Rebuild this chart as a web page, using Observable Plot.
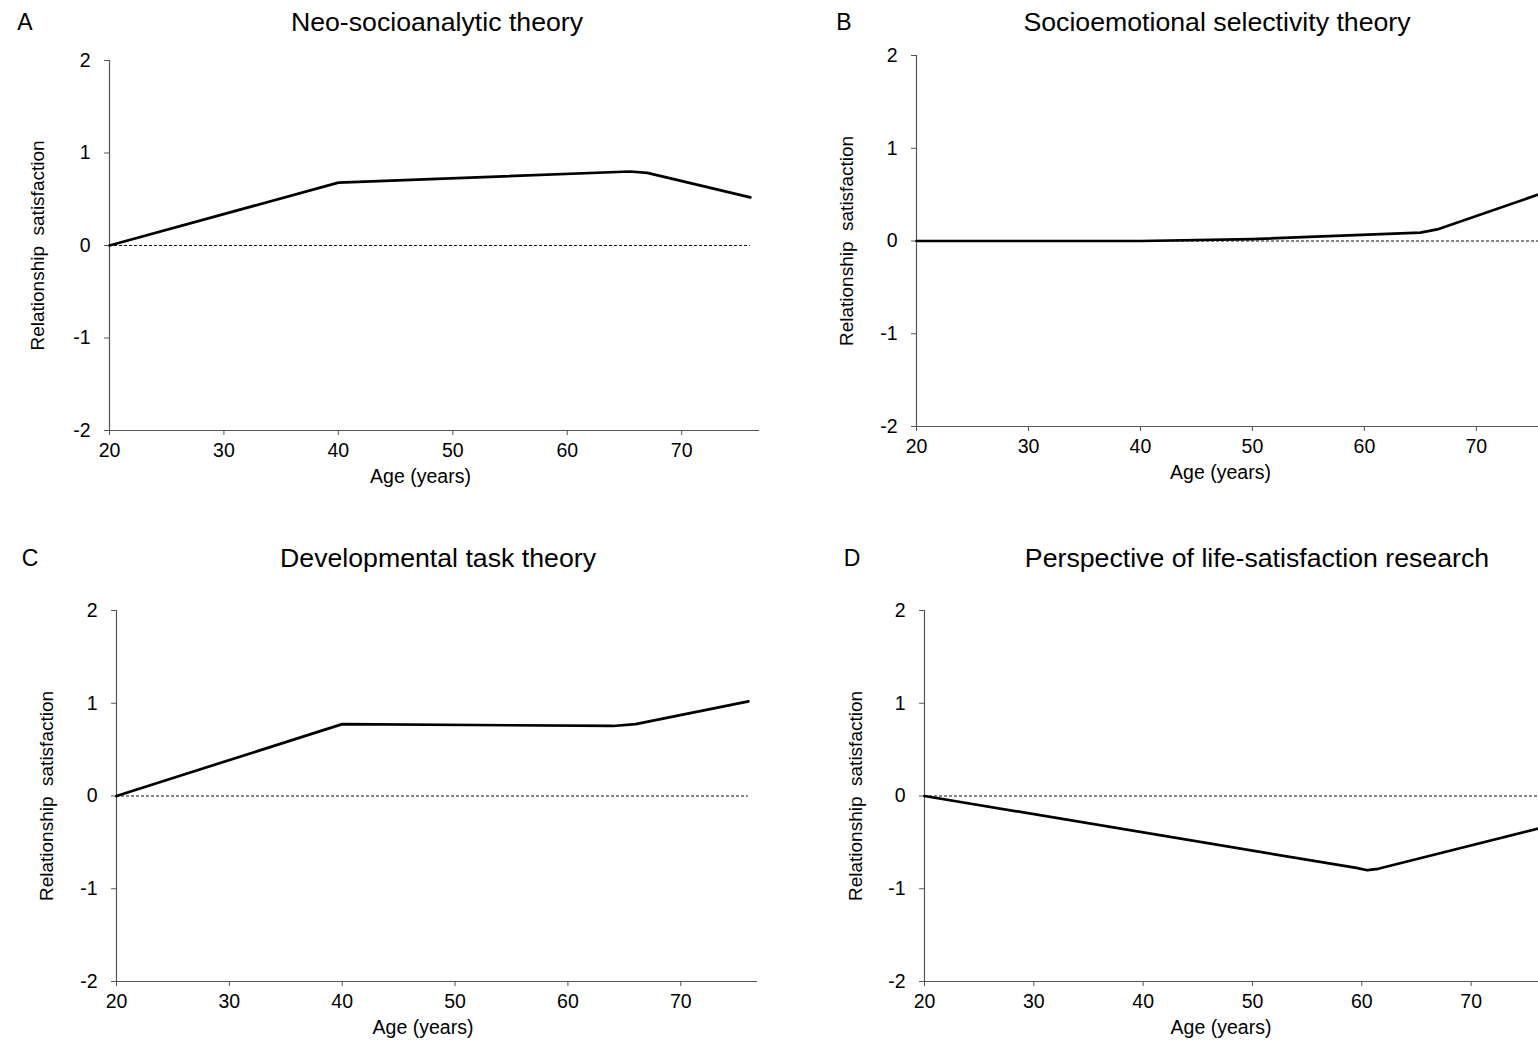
<!DOCTYPE html>
<html><head><meta charset="utf-8">
<script src="https://cdn.jsdelivr.net/npm/d3@7"></script>
<script src="https://cdn.jsdelivr.net/npm/@observablehq/plot@0.6"></script>
<style>
html,body{margin:0;padding:0;background:#fff;overflow:hidden;}
#wrap{position:relative;width:1538px;height:1045px;overflow:hidden;background:#fff;font-family:"Liberation Sans",Arial,Helvetica,sans-serif;color:#000;}
.panel{position:absolute;}
.panel svg{overflow:visible;max-width:none !important;}
.letter,.title{position:absolute;transform:translate(-50%,-50%);white-space:nowrap;line-height:1;}
.letter{font-size:23px;}
.title{font-size:26.7px;}
</style></head><body><div id="wrap"></div>
<script>
// ---- data ----
const xTicks = [20, 30, 40, 50, 60, 70];
const yTicks = [-2, -1, 0, 1, 2];
const panelLetters = ["A", "B", "C", "D"];
const panelTitles = [
  "Neo-socioanalytic theory",
  "Socioemotional selectivity theory",
  "Developmental task theory",
  "Perspective of life-satisfaction research"
];
const xLabel = "Age (years)";
const yLabel = "Relationship  satisfaction";

const agesA = [20, 40, 65.5, 67, 76];
const valuesA = [0, 0.68, 0.80, 0.785, 0.52];

const agesB = [20, 40, 50, 65, 66.5, 76];
const valuesB = [0, 0, 0.02, 0.09, 0.125, 0.52];

const agesC = [20, 40, 64, 66, 76];
const valuesC = [0, 0.775, 0.755, 0.775, 1.02];

const agesD = [20, 59.5, 60.5, 61.5, 76.2];
const valuesD = [0, -0.775, -0.80, -0.785, -0.35];

const series = [[agesA, valuesA], [agesB, valuesB], [agesC, valuesC], [agesD, valuesD]];

// ---- layout ----
const layouts = [
  {left: 0,   top: 0,   width: 770, height: 500, ml: 109, mt: 60, mb: 70, mr: 11, xMax: 76.8, letter: [25, 22],  title: [437, 22],  ylDx: -72},
  {left: 780, top: 0,   width: 783, height: 496, ml: 136, mt: 55, mb: 70, mr: 11, xMax: 76.8, letter: [844, 22], title: [1217, 22], ylDx: -70},
  {left: 0,   top: 540, width: 770, height: 505, ml: 116, mt: 70, mb: 64, mr: 13, xMax: 76.8, letter: [30, 558], title: [438, 558], ylDx: -70},
  {left: 780, top: 540, width: 776, height: 505, ml: 144, mt: 70, mb: 64, mr: 11, xMax: 76.8, letter: [852, 558], title: [1257, 558], ylDx: -69}
];

const wrap = document.getElementById("wrap");
const fmt = d => String(d);

layouts.forEach((L, i) => {
  const [ages, vals] = series[i];
  const data = ages.map((a, k) => ({age: a, value: vals[k]}));
  const chart = Plot.plot({
    width: L.width, height: L.height,
    marginLeft: L.ml, marginTop: L.mt, marginBottom: L.mb, marginRight: L.mr,
    x: {domain: [xTicks[0], L.xMax]},
    y: {domain: [yTicks[0], yTicks[yTicks.length - 1]]},
    style: {fontFamily: '"Liberation Sans", Arial, Helvetica, sans-serif', fontSize: "19.5px", background: "white", color: "black", overflow: "visible", maxWidth: "none"},
    marks: [
      Plot.ruleY([0], {x1: ages[0], x2: ages[ages.length - 1], stroke: "#111", strokeWidth: 1.1, strokeDasharray: "3,2"}),
      Plot.ruleX([xTicks[0]], {stroke: "#555", strokeWidth: 1.2}),
      Plot.ruleY([yTicks[0]], {stroke: "#555", strokeWidth: 1.2}),
      Plot.axisY({ticks: yTicks, tickSize: 5, tickPadding: 14, fontSize: 19.5, stroke: "#555", fill: "black", tickFormat: fmt, label: null}),
      Plot.axisX({ticks: xTicks, tickSize: 5, tickPadding: 8, fontSize: 19.5, stroke: "#555", fill: "black", tickFormat: fmt, label: null}),
      Plot.line(data, {x: "age", y: "value", stroke: "black", strokeWidth: 2.7, strokeLinejoin: "round"}),
      Plot.text([yLabel], {text: d => d, frameAnchor: "left", textAnchor: "middle", dx: L.ylDx, rotate: -90, fontSize: 19, fill: "black"}),
      Plot.text([xLabel], {text: d => d, frameAnchor: "bottom", dx: -14, dy: 52, fontSize: 19.5, fill: "black"})
    ]
  });
  const div = document.createElement("div");
  div.className = "panel";
  div.style.left = L.left + "px";
  div.style.top = L.top + "px";
  div.style.width = L.width + "px";
  div.style.height = L.height + "px";
  div.appendChild(chart);
  wrap.appendChild(div);

  const letter = document.createElement("div");
  letter.className = "letter";
  letter.textContent = panelLetters[i];
  letter.style.left = L.letter[0] + "px";
  letter.style.top = L.letter[1] + "px";
  wrap.appendChild(letter);

  const title = document.createElement("div");
  title.className = "title";
  title.textContent = panelTitles[i];
  title.style.left = L.title[0] + "px";
  title.style.top = L.title[1] + "px";
  wrap.appendChild(title);
});
</script>
</body></html>
